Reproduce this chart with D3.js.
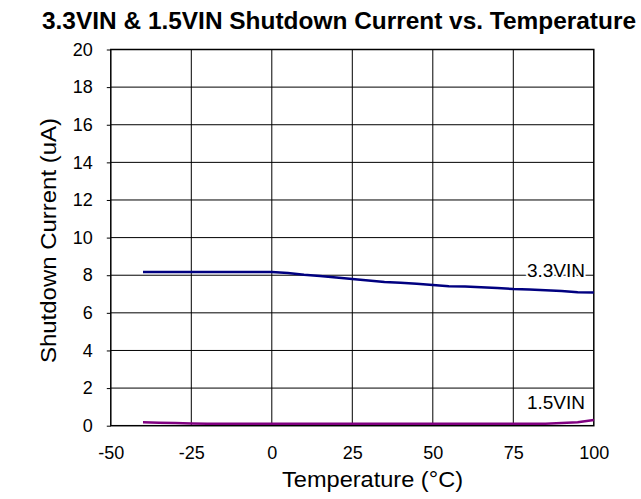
<!DOCTYPE html>
<html><head><meta charset="utf-8">
<script src="https://cdn.jsdelivr.net/npm/d3@7/dist/d3.min.js"></script>
<style>body{margin:0;background:#fff}svg{display:block}text{font-family:"Liberation Sans",Arial,sans-serif}</style>
</head><body>
<svg id="c" width="641" height="499"></svg>
<script>
const temps = [-40,-35,-30,-25,-20,-15,-10,-5,0,5,10,15,20,25,30,35,40,45,50,55,60,65,70,75,80,85,90,95,100];
const v33 = [8.17,8.17,8.17,8.17,8.17,8.17,8.17,8.17,8.17,8.12,8.02,7.96,7.88,7.80,7.72,7.64,7.60,7.55,7.48,7.42,7.40,7.36,7.32,7.27,7.24,7.20,7.16,7.09,7.08];
const v15 = [0.18,0.16,0.14,0.12,0.11,0.11,0.11,0.11,0.11,0.11,0.11,0.11,0.11,0.11,0.11,0.11,0.11,0.11,0.11,0.11,0.11,0.11,0.11,0.11,0.11,0.11,0.14,0.18,0.30];
const xTicks = [-50,-25,0,25,50,75,100];
const yTicks = [0,2,4,6,8,10,12,14,16,18,20];
const seriesNames = ["3.3VIN","1.5VIN"];

const svg = d3.select("#c");
const L=110.8, R=593.8, T=49.5, B=425.7;
const x = d3.scaleLinear().domain([-50,100]).range([L,R]);
const y = d3.scaleLinear().domain([0,20]).range([B,T]);
const fmt = d => String(d);

svg.append("g").selectAll("line").data(xTicks.slice(1,-1)).join("line")
  .attr("x1",d=>x(d)).attr("x2",d=>x(d)).attr("y1",T).attr("y2",B)
  .attr("stroke","#000").attr("stroke-width",1);
svg.append("g").selectAll("line").data(yTicks.slice(1,-1)).join("line")
  .attr("x1",L).attr("x2",R).attr("y1",d=>y(d)).attr("y2",d=>y(d))
  .attr("stroke","#000").attr("stroke-width",1);

const ya = svg.append("g").attr("transform",`translate(${L},0)`)
  .call(d3.axisLeft(y).tickValues(yTicks).tickSize(4).tickPadding(14).tickFormat(fmt));
const xa = svg.append("g").attr("transform",`translate(0,${B})`)
  .call(d3.axisBottom(x).tickValues(xTicks).tickSize(0).tickPadding(21).tickFormat(fmt));
[ya,xa].forEach(a=>{a.attr("font-size",null).attr("font-family",null);a.select(".domain").remove();a.selectAll("text").attr("font-size",18).attr("fill","#000");a.selectAll("line").attr("stroke","#000");});

svg.append("rect").attr("x",L).attr("y",T).attr("width",R-L).attr("height",B-T)
  .attr("fill","none").attr("stroke","#000").attr("stroke-width",1.5);

const line = d3.line().x((d,i)=>x(temps[i])).y(d=>y(d));
svg.append("path").datum(v33).attr("d",line).attr("fill","none").attr("stroke","#000080").attr("stroke-width",2.5);
svg.append("path").datum(v15).attr("d",line).attr("fill","none").attr("stroke","#800080").attr("stroke-width",2.5);

svg.append("text").attr("x",585).attr("y",277).attr("text-anchor","end").attr("font-size",19).text(seriesNames[0])
  .attr("paint-order","stroke").attr("stroke","#fff").attr("stroke-width",4);
svg.append("text").attr("x",585).attr("y",409).attr("text-anchor","end").attr("font-size",19).text(seriesNames[1]);

svg.append("text").attr("x",339).attr("y",28.5).attr("text-anchor","middle").attr("font-size",24).attr("font-weight","bold")
  .attr("textLength",594).attr("lengthAdjust","spacingAndGlyphs")
  .text("3.3VIN & 1.5VIN Shutdown Current vs. Temperature");
svg.append("text").attr("x",372.5).attr("y",486.5).attr("text-anchor","middle").attr("font-size",22)
  .attr("textLength",181).attr("lengthAdjust","spacingAndGlyphs").text("Temperature (°C)");
svg.append("text").attr("transform",`translate(55.5,240.5) rotate(-90)`).attr("text-anchor","middle").attr("font-size",22)
  .attr("textLength",245).attr("lengthAdjust","spacingAndGlyphs").text("Shutdown Current (uA)");
</script>
</body></html>
